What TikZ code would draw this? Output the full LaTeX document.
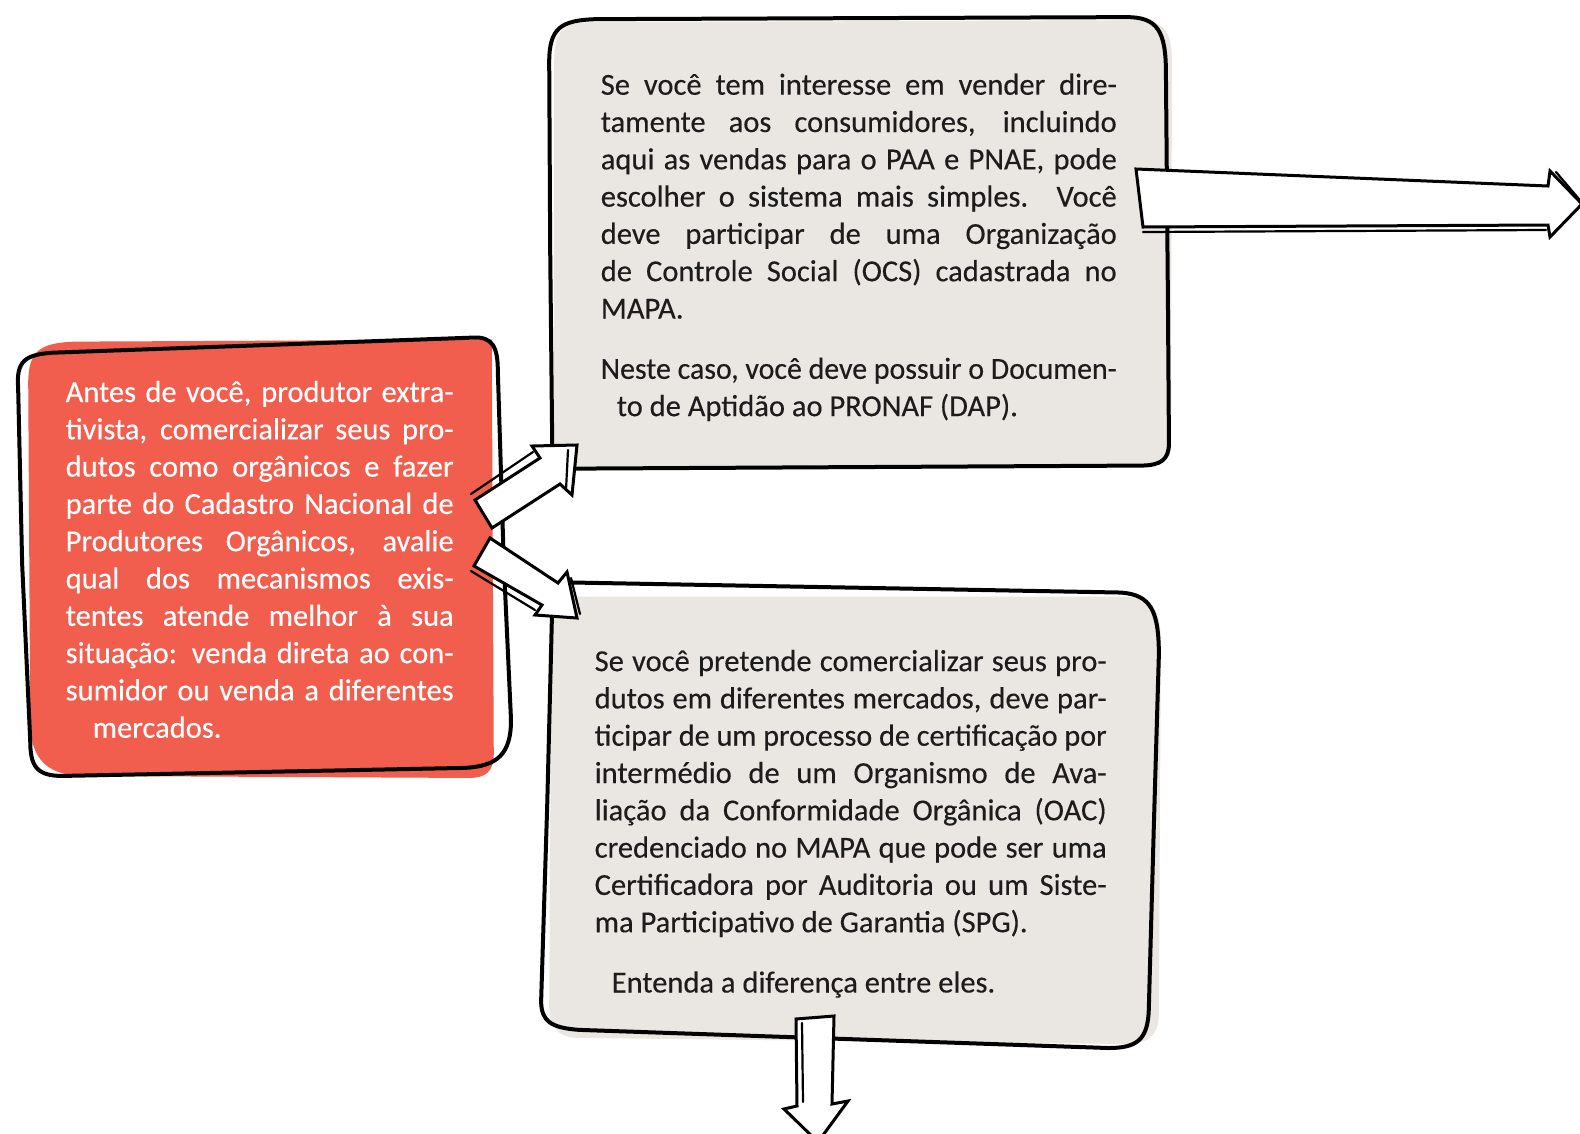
\documentclass[tikz,border=0pt]{standalone}
\usepackage{graphicx}
\usepackage{fontspec}
\setmainfont{Carlito}[FakeBold=0.3]
\definecolor{redc}{HTML}{F15E4E}
\definecolor{grayc}{HTML}{EAE6E1}
\definecolor{inkc}{HTML}{1C1C1C}
\newsavebox\lnbox
\newcommand{\JL}[1]{\sbox\lnbox{#1}\ifdim\wd\lnbox>\linewidth\resizebox{\linewidth}{\height}{\usebox\lnbox}\else\makebox[\linewidth][s]{#1}\fi}
\newcommand{\txtsize}{\fontsize{30.5}{37.3}\selectfont}
\begin{document}
\begin{tikzpicture}[x=1pt,y=-1pt,
  sk/.style={line width=4pt, line join=round, line cap=round, draw=black},
  arr/.style={fill=white, draw=black, line width=3pt, line join=miter},
  dbl/.style={draw=black, line width=2.2pt, line cap=round},
  txt/.style={anchor=base west, inner sep=0pt}]
\useasboundingbox (0,0) rectangle (1580,1133);
\fill[white] (0,0) rectangle (1580,1133);
\clip (0,0) rectangle (1580,1133);

\begin{scope}[scale=1.0077]
% ---------- red box ----------
\fill[redc] (28,380) .. controls (28,348) and (40,340) .. (75,339) -- (488,337)
  -- (490,748) .. controls (490,766) and (482,772) .. (465,772) -- (85,770)
  .. controls (48,770) and (30,755) .. (30,715) -- cycle;
\draw[sk] (18,385) .. controls (16,358) and (25,352) .. (52,350) -- (470,335)
  .. controls (489,334) and (494,345) .. (494,368) -- (500,560) -- (507,712)
  .. controls (508,750) and (492,760) .. (462,762) -- (62,770)
  .. controls (36,770) and (30,760) .. (30,735) -- (22,560) -- cycle;

% ---------- top gray box ----------
\fill[grayc] (550,60) .. controls (550,28) and (560,22) .. (590,22) -- (1130,20)
  .. controls (1155,20) and (1163,32) .. (1163,60) -- (1162,440)
  .. controls (1162,456) and (1155,461) .. (1140,461) -- (575,463)
  .. controls (555,463) and (550,455) .. (550,440) -- cycle;
\draw[sk] (545,62) .. controls (545,28) and (556,20) .. (592,19) -- (1118,17)
  .. controls (1148,17) and (1157,30) .. (1157,72) -- (1159,300) -- (1160,440)
  .. controls (1160,456) and (1152,462) .. (1132,462) -- (575,465)
  .. controls (556,465) and (548,458) .. (548,442) -- (546,250) -- cycle;

% ---------- bottom gray box ----------
\fill[grayc] (547,625) .. controls (547,600) and (555,592) .. (580,592) -- (1115,592)
  .. controls (1145,592) and (1152,605) .. (1152,640) -- (1150,1005)
  .. controls (1150,1028) and (1140,1036) .. (1115,1036) -- (575,1030)
  .. controls (555,1030) and (545,1020) .. (545,1000) -- cycle;
\draw[sk] (565,578) -- (1112,588) .. controls (1142,590) and (1150,606) .. (1150,650)
  -- (1145,820) -- (1140,1002) .. controls (1139,1032) and (1128,1040) .. (1100,1040)
  -- (575,1022) .. controls (546,1020) and (537,1013) .. (537,993)
  -- (543,800) -- (548,600) .. controls (548,586) and (553,578) .. (565,578) -- cycle;
\end{scope}

% ---------- texts ----------
\node[txt, text=inkc] (ttop) at (600.6,94.7) {\parbox[t]{516pt}{\txtsize
\JL{Se você tem interesse em vender dire-}\\
\JL{tamente aos consumidores, incluindo}\\
\JL{aqui as vendas para o PAA e PNAE, pode}\\
\JL{escolher o sistema mais simples. Você}\\
\JL{deve participar de uma Organização}\\
\JL{de Controle Social (OCS) cadastrada no}\\
MAPA.\\[23pt]
\JL{Neste caso, você deve possuir o Documen-}\\
\hspace*{16pt}to de Aptidão ao PRONAF (DAP).}};

\node[txt, text=white] (tred) at (65.5,402) {\parbox[t]{388pt}{\txtsize
\JL{Antes de você, produtor extra-}\\
\JL{tivista, comercializar seus pro-}\\
\JL{dutos como orgânicos e fazer}\\
\JL{parte do Cadastro Nacional de}\\
\JL{Produtores Orgânicos, avalie}\\
\JL{qual dos mecanismos exis-}\\
\JL{tentes atende melhor à sua}\\
\JL{situação: venda direta ao con-}\\
\JL{sumidor ou venda a diferentes}\\
\hspace*{27pt}mercados.}};

\node[txt, text=inkc] (tbot) at (594.5,671.1) {\parbox[t]{512pt}{\txtsize
\JL{Se você pretende comercializar seus pro-}\\
\JL{dutos em diferentes mercados, deve par-}\\
\JL{ticipar de um processo de certificação por}\\
\JL{intermédio de um Organismo de Ava-}\\
\JL{liação da Conformidade Orgânica (OAC)}\\
\JL{credenciado no MAPA que pode ser uma}\\
\JL{Certificadora por Auditoria ou um Siste-}\\
ma Participativo de Garantia (SPG).\\[23pt]
\hspace*{17pt}Entenda a diferença entre eles.}};

% ---------- arrows ----------
% right arrow
\draw[arr] (1136,169) -- (1548,186) -- (1550,171) -- (1582,204) -- (1550,237)
  -- (1548,225) -- (1143,227) -- cycle;
\draw[dbl] (1143,232) -- (1546,230);
\draw[dbl] (1556,172) -- (1584,205);
% up-right arrow
\draw[arr] (475,500) -- (540,458) -- (532,446) -- (577,445) -- (572,495)
  -- (560,484) -- (492,528) -- cycle;
\draw[dbl] (471,494) -- (533,452);
\draw[dbl] (568,450) -- (566,490);
% down-right arrow
\draw[arr] (490,538) -- (558,583) -- (567,572) -- (577,618) -- (535,615)
  -- (542,605) -- (474,566) -- cycle;
\draw[dbl] (471,571) -- (535,610);
\draw[dbl] (571,578) -- (580,614);
% down arrow
\draw[arr] (796,1019) -- (834,1016) -- (832,1104) -- (848,1101) -- (818,1142)
  -- (784,1109) -- (797,1106) -- cycle;
\draw[dbl] (802,1023) -- (803,1102);
\end{tikzpicture}
\end{document}
